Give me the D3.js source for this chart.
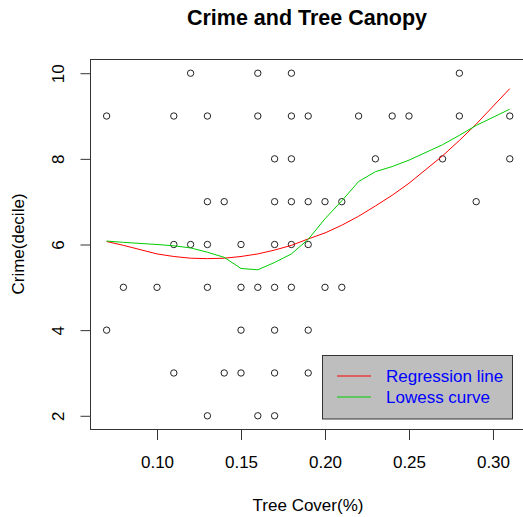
<!DOCTYPE html>
<html><head><meta charset="utf-8">
<script src="https://cdn.jsdelivr.net/npm/d3@7"></script>
<style>body{margin:0;background:#fff}svg{display:block}text{font-family:"Liberation Sans",Arial,sans-serif}</style>
</head><body><svg id="c" width="523" height="517"></svg>
<script>
// Scatter points grouped by crime decile
const decile10 = [0.12, 0.16, 0.18, 0.28];
const decile9 = [0.07, 0.11, 0.13, 0.16, 0.18, 0.19, 0.22, 0.24, 0.25, 0.28, 0.31];
const decile8 = [0.17, 0.18, 0.23, 0.27, 0.31];
const decile7 = [0.13, 0.14, 0.17, 0.18, 0.19, 0.20, 0.21, 0.29];
const decile6 = [0.11, 0.12, 0.13, 0.15, 0.17, 0.18, 0.19];
const decile5 = [0.08, 0.10, 0.13, 0.15, 0.16, 0.17, 0.18, 0.20, 0.21];
const decile4 = [0.07, 0.15, 0.17, 0.19];
const decile3 = [0.11, 0.14, 0.15, 0.17, 0.19];
const decile2 = [0.13, 0.16, 0.17];

// Curves at sorted unique x
const curveX = [0.07,0.08,0.10,0.11,0.12,0.13,0.14,0.15,0.16,0.17,0.18,0.19,0.20,0.21,0.22,0.23,0.24,0.25,0.27,0.28,0.29,0.31];
const regressionY = [6.07,5.98,5.78,5.72,5.68,5.67,5.68,5.72,5.78,5.87,5.98,6.13,6.27,6.45,6.66,6.90,7.15,7.43,8.07,8.43,8.81,9.64];
const lowessY = [6.08,6.05,6.00,5.97,5.92,5.82,5.70,5.44,5.41,5.58,5.78,6.12,6.60,7.02,7.47,7.70,7.82,7.97,8.33,8.55,8.78,9.16];

const xTicks = [0.10, 0.15, 0.20, 0.25, 0.30];
const yTicks = [2, 4, 6, 8, 10];
const legendLabels = ["Regression line", "Lowess curve"];
const title = "Crime and Tree Canopy";
const xTitle = "Tree Cover(%)";
const yTitle = "Crime(decile)";

const points = [];
[[10,decile10],[9,decile9],[8,decile8],[7,decile7],[6,decile6],[5,decile5],[4,decile4],[3,decile3],[2,decile2]]
  .forEach(([d, xs]) => xs.forEach(x => points.push({x, y: d})));

const svg = d3.select("#c");
const x = d3.scaleLinear().domain([0.0604, 0.3196]).range([90.5, 525.9]);
const y = d3.scaleLinear().domain([1.68, 10.32]).range([429.5, 59.5]);

// box
svg.append("rect").attr("x", 90.5).attr("y", 59.5).attr("width", 435.4).attr("height", 370)
  .attr("fill", "none").attr("stroke", "#333").attr("stroke-width", 1);

// x axis
const gx = svg.append("g").attr("transform", "translate(0,430)")
  .call(d3.axisBottom(x).tickValues(xTicks).tickFormat(d3.format(".2f")).tickSize(10).tickSizeOuter(0));
gx.select(".domain").remove();
gx.selectAll(".tick line").attr("stroke", "#333");
gx.selectAll(".tick text").attr("y", 38).attr("dy", 0).attr("font-size", 17).attr("fill", "#000")
  .style("font-family", '"Liberation Sans",Arial,sans-serif');

// y axis
const gy = svg.append("g").attr("transform", "translate(90.5,0)")
  .call(d3.axisLeft(y).tickValues(yTicks).tickSize(10).tickSizeOuter(0));
gy.select(".domain").remove();
gy.selectAll(".tick line").attr("stroke", "#333");
gy.selectAll(".tick text").attr("x", null).attr("dy", 0).attr("text-anchor", "middle")
  .attr("transform", "translate(-26.5,0) rotate(-90)").attr("font-size", 17).attr("fill", "#000")
  .style("font-family", '"Liberation Sans",Arial,sans-serif');

// points
svg.append("g").selectAll("circle").data(points).join("circle")
  .attr("cx", d => x(d.x)).attr("cy", d => y(d.y)).attr("r", 3.2)
  .attr("fill", "none").attr("stroke", "#222").attr("stroke-width", 1);

const line = d3.line().x(d => x(d[0])).y(d => y(d[1]));
svg.append("path").attr("d", line(curveX.map((v, i) => [v, regressionY[i]])))
  .attr("fill", "none").attr("stroke", "#ff0000").attr("stroke-width", 1);
svg.append("path").attr("d", line(curveX.map((v, i) => [v, lowessY[i]])))
  .attr("fill", "none").attr("stroke", "#00cd00").attr("stroke-width", 1);

// titles
svg.append("text").attr("x", 307).attr("y", 25).attr("text-anchor", "middle")
  .attr("font-size", 21.5).attr("font-weight", "bold").text(title);
svg.append("text").attr("x", 308).attr("y", 511).attr("text-anchor", "middle")
  .attr("font-size", 17).text(xTitle);
svg.append("text").attr("transform", "translate(23.5,244) rotate(-90)").attr("text-anchor", "middle")
  .attr("font-size", 17).text(yTitle);

// legend
const lg = svg.append("g");
lg.append("rect").attr("x", 322.5).attr("y", 355.5).attr("width", 190).attr("height", 63.5)
  .attr("fill", "#bebebe").attr("stroke", "#333").attr("stroke-width", 1);
const legColors = ["#ff0000", "#00cd00"];
legendLabels.forEach((lab, i) => {
  const yy = 376 + i * 21;
  lg.append("line").attr("x1", 337).attr("x2", 371).attr("y1", yy).attr("y2", yy)
    .attr("stroke", legColors[i]).attr("stroke-width", 1);
  lg.append("text").attr("x", 386).attr("y", yy + 6).attr("font-size", 17).attr("fill", "#0000ff").text(lab);
});
</script></body></html>
